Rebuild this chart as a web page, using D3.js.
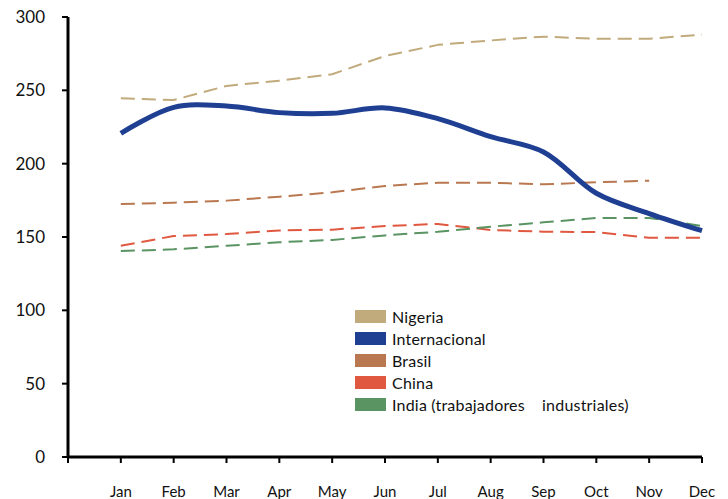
<!DOCTYPE html>
<html>
<head>
<meta charset="utf-8">
<script src="https://cdn.jsdelivr.net/npm/d3@7"></script>
<style>
  body { margin: 0; background: #fff; }
  svg { display: block; font-family: Lato, "Open Sans", sans-serif; }
</style>
</head>
<body>
<div class="chart"></div>
<script>
const months = ["Jan","Feb","Mar","Apr","May","Jun","Jul","Aug","Sep","Oct","Nov","Dec"];
const nigeria = [244.6, 243.4, 253, 256.6, 261, 273.4, 281, 284, 286.6, 285.2, 285.2, 288];
const internacional = [220.7, 238.4, 239.3, 234.8, 234.3, 238, 230.7, 218.4, 208, 179.8, 166, 154.3];
const brasil = [172.5, 173.4, 174.8, 177.5, 180.5, 184.8, 187, 187, 185.9, 187.3, 188.4, null];
const china = [144, 150.7, 152, 154.5, 155, 157.5, 158.9, 154.8, 153.6, 153.4, 149.5, 149.5];
const india = [140.4, 141.6, 144, 146.4, 148, 151.1, 153.6, 157, 160, 163, 163, 157.5];
const yTicks = [0, 50, 100, 150, 200, 250, 300];

const series = [
    {name: "Nigeria", values: nigeria, color: "#c1aa7b", width: 2, dash: "14,7"},
    {name: "Internacional", values: internacional, color: "#1f3f93", width: 5, dash: null},
    {name: "Brasil", values: brasil, color: "#b97850", width: 2, dash: "14,7"},
    {name: "China", values: china, color: "#e0583f", width: 2, dash: "14,7"},
    {name: "India (trabajadores\u00a0\u00a0\u00a0 industriales)", values: india, color: "#5a9463", width: 2, dash: "14,7"}
];

const width = 728;
const height = 499;
const svg = d3.select(".chart")
    .append("svg")
    .attr("width", width)
    .attr("height", height);

// one extra slot before Jan, where the y axis sits
const x = d3.scaleLinear()
    .domain([-1, 11])
    .range([68, 702]);

const y = d3.scaleLinear()
    .domain([0, 300])
    .range([457, 17]);

// y axis
svg.append("line")
    .attr("x1", 68).attr("x2", 68)
    .attr("y1", y(300)).attr("y2", y(0))
    .attr("stroke", "#000").attr("stroke-width", 3);

svg.selectAll(".ytick")
    .data(yTicks)
    .join("line")
    .attr("class", "ytick")
    .attr("x1", 62).attr("x2", 68)
    .attr("y1", d => y(d)).attr("y2", d => y(d))
    .attr("stroke", "#000").attr("stroke-width", 2);

svg.selectAll(".ylabel")
    .data(yTicks)
    .join("text")
    .attr("class", "ylabel")
    .attr("x", 45)
    .attr("y", d => y(d))
    .attr("dy", "0.36em")
    .attr("text-anchor", "end")
    .attr("font-size", 17)
    .attr("fill", "#111")
    .text(d => d);

// x axis
svg.append("line")
    .attr("x1", x(-1)).attr("x2", x(11))
    .attr("y1", y(0)).attr("y2", y(0))
    .attr("stroke", "#000").attr("stroke-width", 3);

svg.selectAll(".xtick")
    .data(d3.range(-1, 12))
    .join("line")
    .attr("class", "xtick")
    .attr("x1", d => x(d)).attr("x2", d => x(d))
    .attr("y1", y(0)).attr("y2", y(0) + 6)
    .attr("stroke", "#000").attr("stroke-width", 2);

svg.selectAll(".xlabel")
    .data(months)
    .join("text")
    .attr("class", "xlabel")
    .attr("x", (d, i) => x(i))
    .attr("y", 497)
    .attr("text-anchor", "middle")
    .attr("font-size", 15)
    .attr("fill", "#111")
    .text(d => d);

// lines: the dashed ones are straight, Internacional is smoothed
const line = d3.line()
    .defined(d => d != null)
    .x((d, i) => x(i))
    .y(d => y(d));

const order = [2, 3, 4, 0, 1];
svg.selectAll(".series")
    .data(order.map(i => series[i]))
    .join("path")
    .attr("class", "series")
    .attr("d", d => line.curve(d.dash ? d3.curveLinear : d3.curveCatmullRom)(d.values))
    .attr("fill", "none")
    .attr("stroke", d => d.color)
    .attr("stroke-width", d => d.width)
    .attr("stroke-dasharray", d => d.dash)
    .attr("stroke-linejoin", "round");

// legend
const legend = svg.append("g")
    .attr("transform", "translate(355,310)");

const item = legend.selectAll("g")
    .data(series)
    .join("g")
    .attr("transform", (d, i) => `translate(0,${i * 22})`);

item.append("rect")
    .attr("width", 31)
    .attr("height", 13)
    .attr("fill", d => d.color);

item.append("text")
    .attr("x", 37)
    .attr("y", 13)
    .attr("font-size", 16)
    .attr("letter-spacing", 0.2)
    .attr("fill", "#111")
    .text(d => d.name);
</script>
</body>
</html>
